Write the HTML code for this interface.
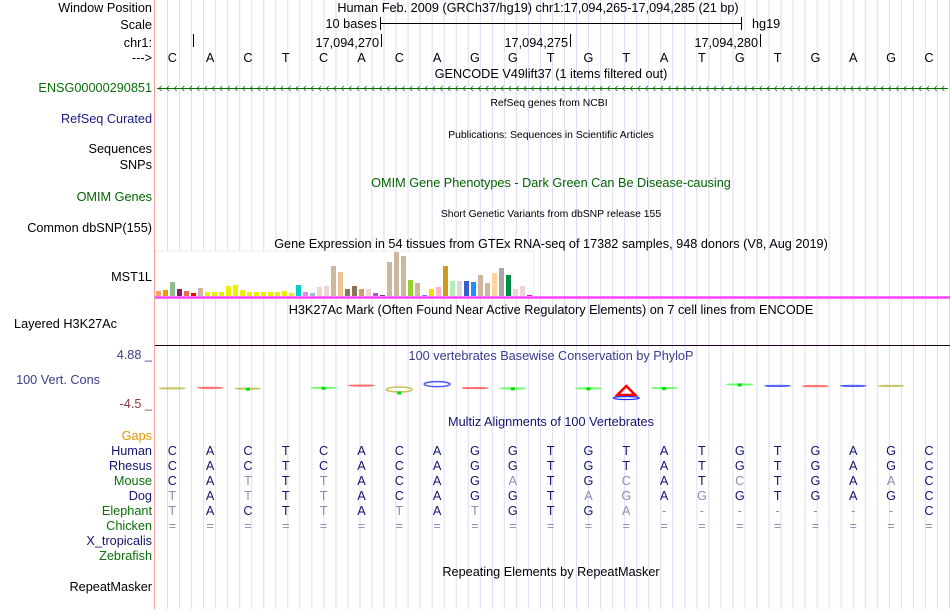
<!DOCTYPE html>
<html><head><meta charset="utf-8">
<style>
body{margin:0;background:#fff;width:950px;height:609px;overflow:hidden;font-family:"Liberation Sans",Arial,sans-serif;}
svg text{font-family:"Liberation Sans",Arial,sans-serif;}
</style></head>
<body>
<svg id="g" width="950" height="609" xmlns="http://www.w3.org/2000/svg">
<g id="grid"></g>
<rect x="155" y="251" width="379" height="46" fill="#fff" stroke="#eeeeee"/>
<line x1="154.5" y1="0" x2="154.5" y2="609" stroke="#f4a0a0"/>
<g font-size="12.7" text-anchor="end">
<text x="152" y="12" fill="#000">Window Position</text>
<text x="152" y="29" fill="#000">Scale</text>
<text x="152" y="47" fill="#000">chr1:</text>
<text x="152" y="62" fill="#000">---&gt;</text>
<text x="152" y="92" fill="#0a6e0a">ENSG00000290851</text>
<text x="152" y="123" fill="#1a1a80">RefSeq Curated</text>
<text x="152" y="153" fill="#000">Sequences</text>
<text x="152" y="169" fill="#000">SNPs</text>
<text x="152" y="201" fill="#006400">OMIM Genes</text>
<text x="152" y="232" fill="#000">Common dbSNP(155)</text>
<text x="152" y="281" fill="#000">MST1L</text>
<text x="117" y="328" fill="#000">Layered H3K27Ac</text>
<text x="152" y="359" fill="#3c3c8c">4.88 _</text>
<text x="100" y="384" fill="#3c3c8c">100 Vert. Cons</text>
<text x="152" y="408" fill="#8c3c3c">-4.5 _</text>
<text x="152" y="440" fill="#e69500">Gaps</text>
<text x="152" y="455" fill="#14146e">Human</text>
<text x="152" y="470" fill="#14146e">Rhesus</text>
<text x="152" y="485" fill="#0a6e0a">Mouse</text>
<text x="152" y="500" fill="#14146e">Dog</text>
<text x="152" y="515" fill="#0a6e0a">Elephant</text>
<text x="152" y="530" fill="#0a6e0a">Chicken</text>
<text x="152" y="545" fill="#14146e">X_tropicalis</text>
<text x="152" y="560" fill="#0a6e0a">Zebrafish</text>
<text x="152" y="591" fill="#000">RepeatMasker</text>
</g>
<g font-size="12.7" text-anchor="middle">
<text x="538" y="12">Human Feb. 2009 (GRCh37/hg19)   chr1:17,094,265-17,094,285 (21 bp)</text>
<text x="551" y="78">GENCODE V49lift37 (1 items filtered out)</text>
<text x="549" y="106" font-size="10.4">RefSeq genes from NCBI</text>
<text x="551" y="138" font-size="10.4">Publications: Sequences in Scientific Articles</text>
<text x="551" y="187" fill="#006400">OMIM Gene Phenotypes - Dark Green Can Be Disease-causing</text>
<text x="551" y="217" font-size="10.4">Short Genetic Variants from dbSNP release 155</text>
<text x="551" y="248">Gene Expression in 54 tissues from GTEx RNA-seq of 17382 samples, 948 donors (V8, Aug 2019)</text>
<text x="551" y="314">H3K27Ac Mark (Often Found Near Active Regulatory Elements) on 7 cell lines from ENCODE</text>
<text x="551" y="360" fill="#3c3c8c">100 vertebrates Basewise Conservation by PhyloP</text>
<text x="551" y="426" fill="#14146e">Multiz Alignments of 100 Vertebrates</text>
<text x="551" y="576">Repeating Elements by RepeatMasker</text>
</g>
<g font-size="12.7">
<text x="377" y="28" text-anchor="end">10 bases</text>
<line x1="380.5" y1="17" x2="380.5" y2="30" stroke="#000"/>
<line x1="380" y1="23.5" x2="742" y2="23.5" stroke="#000"/>
<line x1="741.5" y1="17" x2="741.5" y2="30" stroke="#000"/>
<text x="752" y="28">hg19</text>
</g>
<g font-size="12.7">
<line x1="193.5" y1="34" x2="193.5" y2="47" stroke="#000"/>
<text x="379" y="47" text-anchor="end">17,094,270</text><line x1="381.5" y1="34" x2="381.5" y2="47" stroke="#000"/>
<text x="568" y="47" text-anchor="end">17,094,275</text><line x1="570.5" y1="34" x2="570.5" y2="47" stroke="#000"/>
<text x="758" y="47" text-anchor="end">17,094,280</text><line x1="760.5" y1="34" x2="760.5" y2="47" stroke="#000"/>
</g>
<g id="refseq"></g>
<g id="gene"></g>
<g id="gtex"></g>
<line x1="155" y1="297.5" x2="950" y2="297.5" stroke="#ff40ff" stroke-width="2.5"/>
<line x1="155" y1="345.5" x2="950" y2="345.5" stroke="#200020"/>
<g id="cons"></g>
<g id="aln" font-size="12.7" text-anchor="middle"></g>
</svg>
<script>
const NS="http://www.w3.org/2000/svg";
const bases=["C","A","C","T","C","A","C","A","G","G","T","G","T","A","T","G","T","G","A","G","C"];
const gtexValues=[5,6,14,7,5,3,8,4,4,4,10,11,6,4,4,4,4,4,5,3,11,4,3,9,10,30,24,7,10,7,7,3,1,34,44,40,16,13,1,7,9,30,15,15,15,14,21,13,23,28,21,7,10,1];
const gtexColors=["#f4a460","#ee9a00","#8fbc8f","#8b1c62","#ee6a50","#ff0000","#cdb79e","#eeee00","#eeee00","#eeee00","#eeee00","#eeee00","#eeee00","#eeee00","#eeee00","#eeee00","#eeee00","#eeee00","#eeee00","#eeee00","#00cdcd","#ee82ee","#9ac0cd","#eed5d2","#eed5d2","#cdb79e","#eec591","#8b7355","#8b7355","#cd9b72","#eed5d2","#b452cd","#7a378b","#cdb79e","#cdb79e","#cdb79e","#9acd32","#cdb79e","#8470ff","#ffd700","#ffb6c1","#cd9b1d","#b4eeb4","#d9d9d9","#3a5fcd","#1e90ff","#cdb79e","#cdb79e","#ffd39b","#a6a6a6","#008b45","#eed5d2","#eed5d2","#ff00ff"];
const consScores=[-1.2,-1.0,-1.3,null,-1.0,-0.2,-1.6,0.3,-1.1,-1.2,null,-1.2,-2.5,-1.1,null,0.2,-0.3,-0.4,-0.3,-0.3,null];
const consColors=["#b4b432","#ff4040","#b4b432",null,"#40ff40","#ff4040","#b4b432","#2030ff","#ff4040","#40ff40",null,"#40ff40","#ff0000","#40ff40",null,"#40ff40","#2030ff","#ff4040","#2030ff","#b4b432",null];
const species=["Human","Rhesus","Mouse","Dog","Elephant","Chicken"];
const alnRows=["CACTCACAGGTGTATGTGAGC","CACTCACAGGTGTATGTGAGC","CATTTACAGATGCATCTGAAC","TATTTACAGGTAGAGGTGAGC","TACTTATATGTGA-------C","====================="];
function bx(i){return 172.3+37.83*i;}
function el(tag,attrs,parent,txt){const e=document.createElementNS(NS,tag);for(const k in attrs)e.setAttribute(k,attrs[k]);if(txt!==undefined)e.textContent=txt;parent.appendChild(e);return e;}
const grid=document.getElementById('grid');
for(let x=167.5;x<950;x+=12.03){const l=el('line',{x1:x,y1:0,x2:x,y2:609,stroke:'#dcdcf5'},grid);

}
const rs=document.getElementById('refseq');
bases.forEach((b,i)=>{const t=el('text',{x:bx(i),y:62,'font-size':12.7,'text-anchor':'middle'},rs,b);

});
const gene=document.getElementById('gene');
el('line',{x1:157,y1:88.5,x2:948,y2:88.5,stroke:'#0a6e0a'},gene);
for(let x=159;x<946;x+=7.6){el('polyline',{points:`${x+2.5},86 ${x},88.5 ${x+2.5},91`,fill:'none',stroke:'#0a6e0a','stroke-width':0.8},gene);}
const gtex=document.getElementById('gtex');
const gtexY=v=>296-v*1.0;
gtexValues.forEach((v,i)=>{const r=el('rect',{x:156+i*7,y:gtexY(v),width:5,height:296-gtexY(v),fill:gtexColors[i]},gtex);

});
const cons=document.getElementById('cons');
const consY=s=>385-s*2.8;
consScores.forEach((s,i)=>{if(s===null)return;const c=consColors[i];const x=bx(i);const y=consY(s);
if(c==="#ff0000"){const p=el('polygon',{points:`${x-9},${y+3} ${x},${y-6} ${x+9},${y+3}`,fill:'none',stroke:c,'stroke-width':2.5},cons);


el('ellipse',{cx:x,cy:y+6,rx:13,ry:1.5,fill:'none',stroke:'#2030ff','stroke-width':1.2},cons);}
else{const big=(i===6||i===7);const m=el('ellipse',{cx:x,cy:y,rx:13,ry:big?2.5:0.6,fill:'none',stroke:c,'stroke-width':big?1.5:1,opacity:0.8},cons);


if(c==="#40ff40"||i===2||i===6)el('rect',{x:x-2,y:y-1+(i===6?3:0),width:4,height:3,fill:'#00dd00'},cons);}
});
const aln=document.getElementById('aln');
alnRows.forEach((row,r)=>{for(let i=0;i<21;i++){const ch=row[i];const same=ch===alnRows[0][i];
const faded=!same||ch==='='||ch==='-';
const t=el('text',{x:bx(i),y:455+r*15,fill:faded?'#8c8cb4':'#14146e'},aln,ch);

}});
</script>
</body></html>
